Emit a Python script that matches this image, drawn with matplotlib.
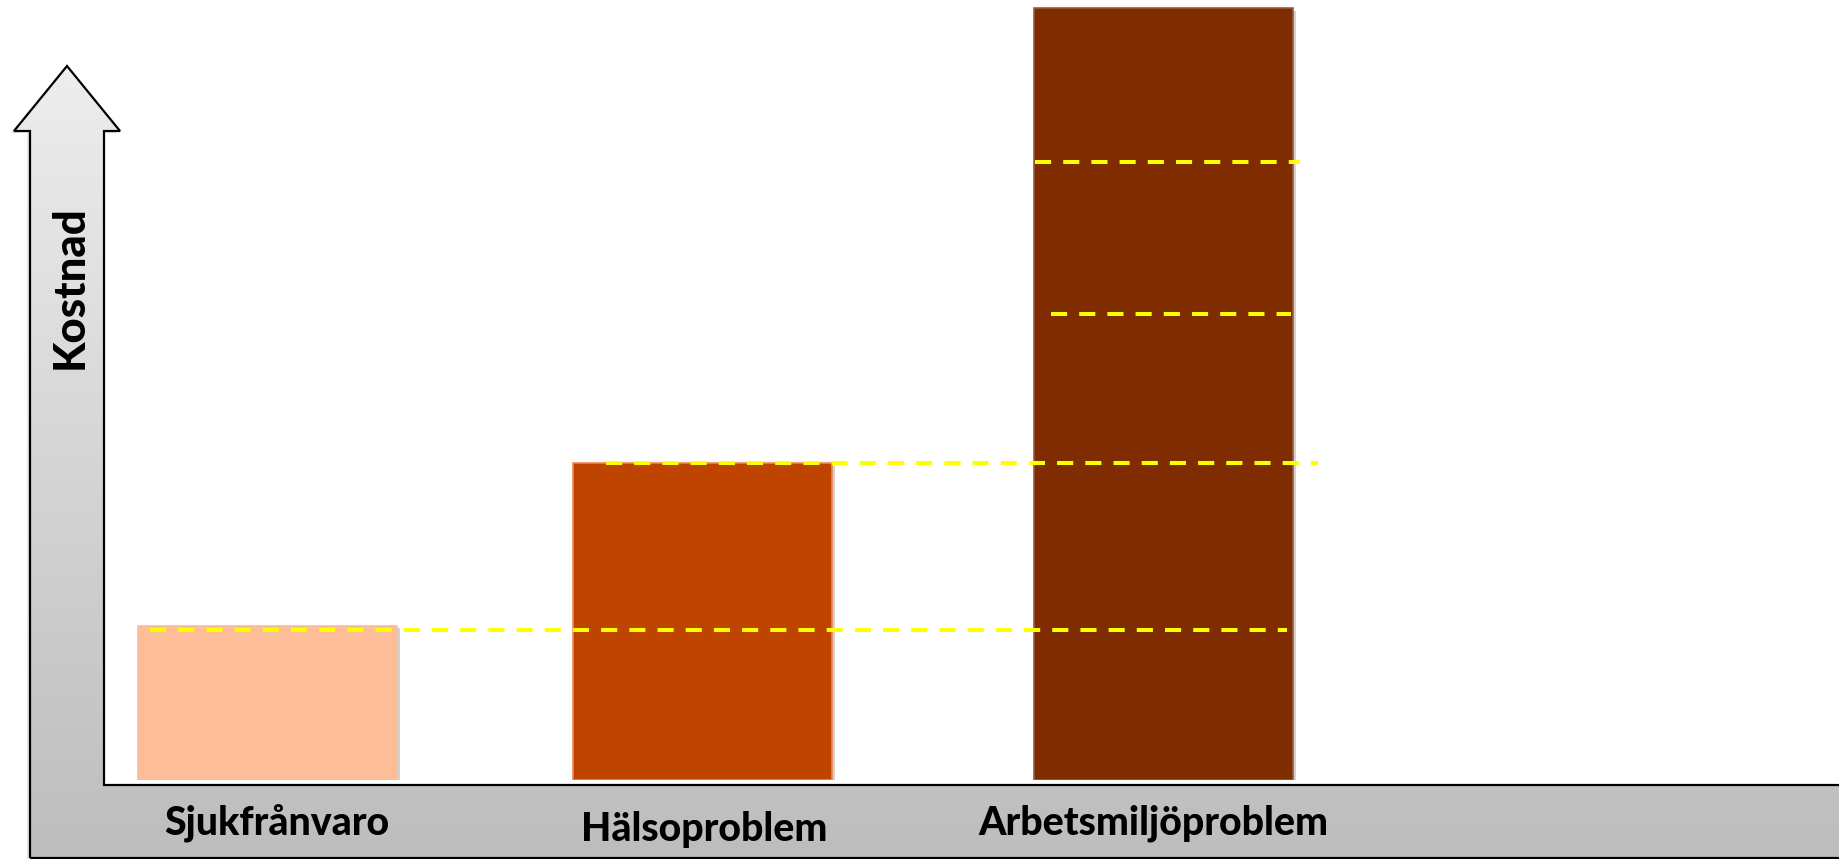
import numpy as np
import matplotlib
matplotlib.use("Agg")
import matplotlib.pyplot as plt
from matplotlib.patches import Polygon
from matplotlib import patheffects as pe

# --- data -------------------------------------------------------------
categories = ["Sjukfrånvaro", "Hälsoproblem", "Arbetsmiljöproblem"]
costs = [1.0, 2.05, 5.0]                      # relative cost per category
guide_levels = [0.97, 2.05, 3.02, 4.0]        # dashed reference levels
y_axis_label = "Kostnad"

# --- styling / layout -------------------------------------------------
bar_colors = ["#FDBD98", "#BF4400", "#7F2D00"]
bar_edges = ["#FDBD98", "#F08656", "#9C5A38"]
guide_spans = [(150, 1287), (606, 1318), (1051, 1291), (1035, 1300)]
bar_centers = [267.5, 702.5, 1163.5]
bar_width = 259
label_pos = [(277, 835), (704, 841), (1153, 835)]

W, H = 1839, 859
BASE = 780       # baseline pixel row of the bars
UNIT = 154.4     # pixels per cost unit

label_font = dict(family=["Lato", "DejaVu Sans"], weight="black", color="black")

fig = plt.figure(figsize=(W / 100, H / 100), dpi=100)
fig.patch.set_facecolor("white")

# background layer in pixel coordinates: the L-shaped arrow axis
bg = fig.add_axes([0, 0, 1, 1])
bg.set_xlim(0, W)
bg.set_ylim(H, 0)
bg.axis("off")

arrow_verts = [(30, 858), (30, 131), (14, 131), (67, 66), (120, 131),
               (104, 131), (104, 785), (W + 10, 785), (W + 10, 858)]
arrow = Polygon(arrow_verts, closed=True, facecolor="none", edgecolor="black",
                linewidth=1.6, joinstyle="miter", zorder=3)
shadow = Polygon([(x - 3, y + 2) for x, y in arrow_verts], closed=True,
                 facecolor="#000000", alpha=0.10, edgecolor="none", zorder=1)
bg.add_patch(shadow)
bg.add_patch(arrow)

shade = np.linspace(238, 189, 400) / 255.0
grad = np.repeat(shade[:, None, None], 3, axis=2)
img = bg.imshow(grad, extent=(0, W + 10, 858, 60), origin="upper",
                aspect="auto", interpolation="bilinear", zorder=2)
img.set_clip_path(arrow)

for name, (x, y) in zip(categories, label_pos):
    bg.text(x, y, name, ha="center", va="baseline", zorder=5, size=28.3, **label_font)

bg.text(83, 287, y_axis_label, rotation=90, rotation_mode="anchor",
        ha="center", va="baseline", zorder=5, size=31.5, **label_font)

# data layer: bars and dashed guides
ax = fig.add_axes([0, (H - BASE) / H, 1, BASE / H])
ax.set_xlim(0, W)
ax.set_ylim(0, BASE / UNIT)
ax.axis("off")
ax.patch.set_alpha(0)

bars = ax.bar(bar_centers, costs, width=bar_width, color=bar_colors,
              edgecolor=bar_edges, linewidth=1.2, zorder=2)
for b in bars:
    b.set_path_effects([pe.SimplePatchShadow(offset=(2.5, -2), shadow_rgbFace="#808080",
                                             alpha=0.35), pe.Normal()])

for lvl, (x0, x1) in zip(guide_levels, guide_spans):
    ax.hlines(lvl, x0, x1, colors="#FFFF00", linewidth=2.9,
              linestyles=(0, (4, 3)), zorder=4)

fig.savefig("out.png", dpi=100, facecolor="white")
